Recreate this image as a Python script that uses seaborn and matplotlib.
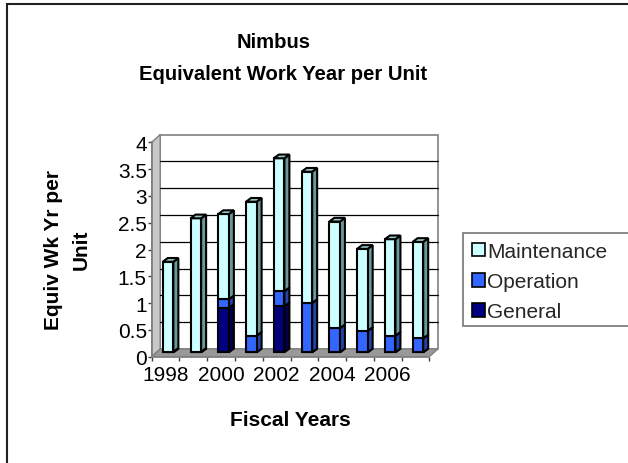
import numpy as np
import pandas as pd
import matplotlib
matplotlib.use("Agg")
import matplotlib.pyplot as plt
import seaborn as sns
from matplotlib.patches import Polygon, Patch, Rectangle
from matplotlib.transforms import offset_copy

# ---------------- data ----------------
years = ["1998", "1999", "2000", "2001", "2002", "2003", "2004", "2005", "2006", "2007"]
general = [0.0, 0.0, 0.83, 0.0, 0.86, 0.0, 0.0, 0.0, 0.0, 0.0]
operation = [0.01, 0.01, 0.16, 0.31, 0.28, 0.92, 0.45, 0.40, 0.31, 0.26]
maintenance = [1.68, 2.49, 1.59, 2.50, 2.48, 2.45, 1.99, 1.53, 1.80, 1.80]
series_order = ["General", "Operation", "Maintenance"]
legend_order = ["Maintenance", "Operation", "General"]
y_ticks = [0, 0.5, 1, 1.5, 2, 2.5, 3, 3.5, 4]
y_tick_labels = ["0", "0.5", "1", "1.5", "2", "2.5", "3", "3.5", "4"]
x_label_pos = [0, 2, 4, 6, 8]
x_labels = ["1998", "2000", "2002", "2004", "2006"]
title_line1 = "Nimbus"
title_line2 = "Equivalent Work Year per Unit"
y_title = "Equiv Wk Yr per\nUnit"
x_title = "Fiscal Years"

front_colors = {"Maintenance": "#CCFFFF", "Operation": "#3366FF", "General": "#000080"}
side_colors = {"Maintenance": "#6A9999", "Operation": "#2244AA", "General": "#000050"}
top_colors = {"Maintenance": "#99CCCC", "Operation": "#3366FF", "General": "#000080"}

df = pd.DataFrame({"year": years, "General": general,
                   "Operation": operation, "Maintenance": maintenance})

# ---------------- figure ----------------
sns.set_theme(style="white")
plt.rcParams["font.family"] = ["Liberation Sans", "DejaVu Sans"]

W, H = 628, 464
fig = plt.figure(figsize=(W / 100, H / 100), dpi=100)
fig.patch.set_facecolor("white")

ax_l, ax_r, ax_t, ax_b = 151.7, 429.3, 143.3, 357.7
ax = fig.add_axes([ax_l / W, 1 - ax_b / H, (ax_r - ax_l) / W, (ax_b - ax_t) / H])
ax.set_xlim(-0.5, 9.5)
ax.set_ylim(0, 4)
ax.patch.set_alpha(0)

px_x = (ax_r - ax_l) / 10.0
px_y = (ax_b - ax_t) / 4.0
# depth of walls (back wall offset) in data units
WX, WY = 8.5 / px_x, 7.7 / px_y

# left wall, floor, back wall
ax.add_patch(Polygon([(-0.5, 0), (-0.5 + WX, WY), (-0.5 + WX, 4 + WY), (-0.5, 4)],
                     closed=True, facecolor="#C8C8C8", edgecolor="#808080", lw=1.0,
                     zorder=0.5, clip_on=False))
ax.add_patch(Rectangle((-0.5 + WX, WY), 10, 4, facecolor="white", edgecolor="#808080",
                       lw=1.2, zorder=0.4, clip_on=False))
for v in y_ticks[1:-1]:
    ax.plot([-0.5 + WX, 9.5 + WX], [v + WY, v + WY], color="black", lw=0.9,
            zorder=0.6, clip_on=False)
ax.add_patch(Polygon([(-0.5, 0), (9.5, 0), (9.5 + WX, WY), (-0.5 + WX, WY)],
                     closed=True, facecolor="#999999", edgecolor="#808080", lw=1.0,
                     zorder=0.7, clip_on=False))

# bars (stacked) drawn with seaborn, then given a 3-D look
bar_tr = offset_copy(ax.transData, fig=fig, x=2.5, y=4.4, units="dots")
DX, DY = 5.0 / px_x, 3.7 / px_y
bottom = np.zeros(len(years))
n_tops = []
for name in series_order:
    before = len(ax.patches)
    sns.barplot(x=df["year"], y=df[name], bottom=bottom, ax=ax, color=front_colors[name],
                saturation=1, width=0.38, edgecolor="black", linewidth=1.5, zorder=3)
    new = ax.patches[before:]
    for p in new:
        p.set_transform(bar_tr)
        p.set_clip_on(False)
        x0 = p.get_x(); x1 = x0 + p.get_width()
        y0 = p.get_y(); y1 = y0 + p.get_height()
        ax.add_patch(Polygon([(x1, y0), (x1 + DX, y0 + DY), (x1 + DX, y1 + DY), (x1, y1)],
                             closed=True, facecolor=side_colors[name], edgecolor="black",
                             lw=1.5, zorder=2.9, transform=bar_tr, clip_on=False))
    bottom = bottom + df[name].values
    n_tops = new

# top faces of the stacks
for p in n_tops:
    x0 = p.get_x(); x1 = x0 + p.get_width(); y1 = p.get_y() + p.get_height()
    ax.add_patch(Polygon([(x0, y1), (x0 + DX, y1 + DY), (x1 + DX, y1 + DY), (x1, y1)],
                         closed=True, facecolor=top_colors["Maintenance"], edgecolor="black",
                         lw=1.5, zorder=3.1, transform=bar_tr, clip_on=False))

ax.set_xlabel("")
ax.set_ylabel("")
for s in ["top", "right"]:
    ax.spines[s].set_visible(False)
for s in ["left", "bottom"]:
    ax.spines[s].set_color("#808080")
    ax.spines[s].set_linewidth(1.2)
    ax.spines[s].set_zorder(1)

ax.set_yticks(y_ticks, y_tick_labels)
ax.set_xticks(x_label_pos, x_labels)
ax.set_xticks(np.arange(-0.5, 10, 1), minor=True)
ax.tick_params(axis="y", which="major", direction="out", length=3, width=1,
               color="#404040", pad=0.5, labelsize=15, left=True)
ax.tick_params(axis="x", which="major", length=0, pad=6, labelsize=15, bottom=True)
ax.tick_params(axis="x", which="minor", direction="out", length=3, width=1,
               color="#404040", bottom=True)
for lab in ax.get_xticklabels() + ax.get_yticklabels():
    lab.set_color("black")

# titles
fig.text(274 / W, 1 - 48.3 / H, title_line1, ha="center", va="baseline",
         fontsize=14.6, fontweight="bold", color="black")
fig.text(283 / W, 1 - 80 / H, title_line2, ha="center", va="baseline",
         fontsize=14.6, fontweight="bold", color="black")
fig.text(290.3 / W, 1 - 425.7 / H, x_title, ha="center", va="baseline",
         fontsize=15, fontweight="bold", color="black")
fig.text(67.5 / W, 1 - 250 / H, y_title, ha="center", va="center", rotation=90,
         fontsize=15, fontweight="bold", color="black", linespacing=1.6,
         multialignment="center")

# legend
fig.patches.append(Rectangle((463 / W, 1 - 327 / H), 0.5, 93 / H, transform=fig.transFigure,
                             facecolor="white", edgecolor="#808080", lw=1.3, zorder=1))
handles = [Patch(facecolor=front_colors[n], edgecolor="black", linewidth=1.2)
           for n in legend_order]
leg = fig.legend(handles, legend_order, loc="upper left",
                 bbox_to_anchor=(472 / W, 1 - 243 / H), frameon=False, fontsize=15,
                 handlelength=0.62, handleheight=0.62, handletextpad=0.1,
                 labelspacing=0.54, borderpad=0, borderaxespad=0)

# outer chart border
fig.patches.append(Rectangle((7 / W, -0.1), 2, 1.1 - 5 / H, transform=fig.transFigure,
                             facecolor="none", edgecolor="#202020", lw=1.5, zorder=0))

fig.savefig("out.png", dpi=100)
